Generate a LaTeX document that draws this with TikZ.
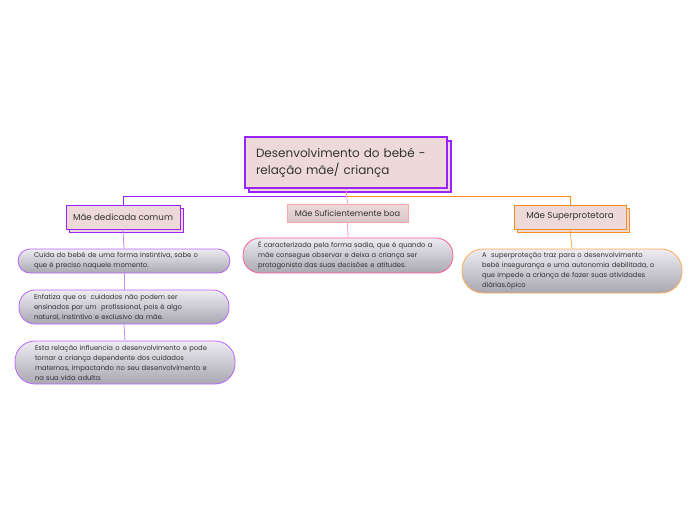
\documentclass[tikz,border=0pt]{standalone}
\usepackage{fontspec}
\setmainfont{Poppins}
\usetikzlibrary{positioning,shadows}

\definecolor{violetline}{HTML}{9A22FF}
\definecolor{violetsub}{HTML}{BB66FF}
\definecolor{violetlink}{HTML}{CC88FF}
\definecolor{orangeline}{HTML}{FF8C1A}
\definecolor{orangesub}{HTML}{FFAA55}
\definecolor{pinkline}{HTML}{FF99C2}
\definecolor{pinkbox}{HTML}{FFA8A8}
\definecolor{pinksub}{HTML}{FF5C9D}
\definecolor{topicfill}{HTML}{EED9D9}
\definecolor{subtop}{HTML}{EDECF1}
\definecolor{subbottom}{HTML}{A9A7B1}
\definecolor{textgrey}{HTML}{333333}

\begin{document}
\begin{tikzpicture}[x=1pt,y=-1pt,
  rootbox/.style={draw=violetline,line width=1.4pt,fill=topicfill,text=textgrey,
    minimum width=202pt,minimum height=51pt,text width=180pt,align=left,
    font=\fontsize{12}{17}\selectfont,
    copy shadow={shadow xshift=4pt,shadow yshift=-4pt}},
  topic/.style={line width=1pt,fill=topicfill,text=textgrey,inner sep=0pt,
    minimum height=24pt,font=\fontsize{8.7}{10}\selectfont},
  sub/.style={line width=0.8pt,top color=subtop,bottom color=subbottom,text=textgrey,
    text width=180pt,align=left,inner ysep=0pt,font=\fontsize{6.8}{10}\selectfont},
  link/.style={line width=0.8pt}]
\useasboundingbox (0,0) rectangle (696,520);

% central topic
\node[rootbox] (root) at (346,162.5) {Desenvolvimento do bebé -\\relação mãe/ criança};
\coordinate[below=8pt of root] (hub);

% main topics
\node[topic,draw=violetline,minimum width=114pt,
  copy shadow={shadow xshift=3pt,shadow yshift=-3pt}] (dedicada) at (123,217) {Mãe dedicada comum};
\node[topic,draw=pinkbox,minimum width=121pt,minimum height=18pt,fill=none,
  top color=topicfill,bottom color=topicfill!80!gray,font=\fontsize{8.2}{10}\selectfont] (suficiente) at (347.5,213) {Mãe Suficientemente boa};
\node[topic,draw=orangeline,minimum width=112pt,
  copy shadow={shadow xshift=3pt,shadow yshift=-3pt}] (superprotetora) at (570,217) {Mãe Superprotetora};

% subtopics
\node[sub,draw=violetsub,inner xsep=16pt,minimum height=24pt,rounded corners=12pt] (cuida) at (124,261)
  {Cuida do bebé de uma forma instintiva, sabe o\\que é preciso naquele momento.};
\node[sub,draw=violetsub,inner xsep=15pt,minimum height=34pt,rounded corners=16pt] (enfatiza) at (124,307)
  {Enfatiza que os\ \ cuidados não podem ser\\ensinados por um\ \ profissional, pois é algo\\natural, instintivo e exclusivo da mãe.};
\node[sub,draw=violetsub,inner xsep=20pt,minimum height=43pt,rounded corners=20pt] (relacao) at (125,362.5)
  {Esta relação influencia o desenvolvimento e pode\\tornar a criança dependente dos cuidados\\maternos, impactando no seu desenvolvimento e\\na sua vida adulta.};
\node[sub,draw=pinksub,inner xsep=15pt,minimum height=35pt,rounded corners=17pt] (sadia) at (348,255.5)
  {É caracterizada pela forma sadia, que é quando a\\mãe consegue observar e deixa a criança ser\\protagonista das suas decisões e atitudes.};
\node[sub,draw=orangesub,inner xsep=20pt,minimum height=44pt,rounded corners=21pt] (inseguranca) at (572,271)
  {A\ \ superproteção traz para o desenvolvimento\\bebé insegurança e uma autonomia debilitada, o\\que impede a criança de fazer suas atividades\\diárias.ópico};

% connectors
\draw[link,violetline] (hub) -| (dedicada.north);
\draw[link,orangeline] (hub) -| (superprotetora.north);
\draw[link,pinkline] (root.south) -- (suficiente.north);
\draw[link,violetlink] (dedicada.south) -- (cuida.north);
\draw[link,violetlink] (cuida.south) -- (enfatiza.north);
\draw[link,violetlink] (enfatiza.south) -- (relacao.north);
\draw[link,pinkline] (suficiente.south) -- (sadia.north);
\draw[link,orangesub] (superprotetora.south) -- (inseguranca.north);
\end{tikzpicture}
\end{document}
